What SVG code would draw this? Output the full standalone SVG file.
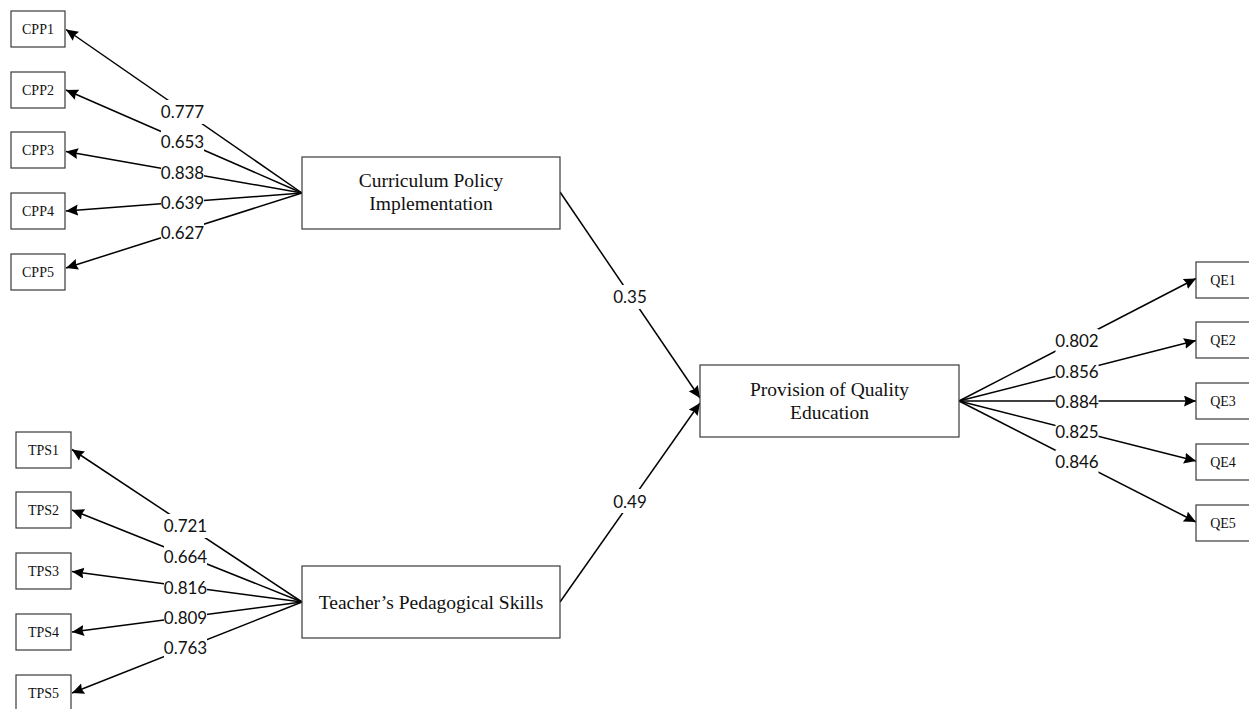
<svg xmlns="http://www.w3.org/2000/svg" width="1249" height="709" viewBox="0 0 1249 709">
<style>
.box{fill:#fff;stroke:#3a3a3a;stroke-width:1.2}
.small{font-family:"Liberation Serif",serif;font-size:14px;fill:#111;text-anchor:middle}
.big{font-family:"Liberation Serif",serif;font-size:19.5px;fill:#111;text-anchor:middle}
.conn{stroke:#000;stroke-width:1.5;fill:none;marker-end:url(#arr)}
.lblbg{fill:#fff}
.lbl{font-family:Lato,"Open Sans",sans-serif;font-size:17px;fill:#111;text-anchor:middle}
</style>
<defs>
<marker id="arr" markerUnits="userSpaceOnUse" markerWidth="14" markerHeight="12" refX="12" refY="5.5" orient="auto">
<path d="M0,0 L12,5.5 L0,11 L1.5,5.5 z" fill="#000"/>
</marker>
</defs>
<rect width="1249" height="709" fill="#fff"/>
<g id="connectors">
<line class="conn" x1="302" y1="193" x2="66" y2="29.5"/>
<line class="conn" x1="302" y1="193" x2="66" y2="90"/>
<line class="conn" x1="302" y1="193" x2="66" y2="151.5"/>
<line class="conn" x1="302" y1="193" x2="66" y2="211"/>
<line class="conn" x1="302" y1="193" x2="66" y2="268"/>
<line class="conn" x1="302" y1="602" x2="72" y2="449.5"/>
<line class="conn" x1="302" y1="602" x2="72" y2="510"/>
<line class="conn" x1="302" y1="602" x2="72" y2="571.5"/>
<line class="conn" x1="302" y1="602" x2="72" y2="632"/>
<line class="conn" x1="302" y1="602" x2="72" y2="693"/>
<line class="conn" x1="560" y1="192" x2="700" y2="398"/>
<line class="conn" x1="560" y1="602" x2="700" y2="403"/>
<line class="conn" x1="959" y1="401" x2="1196" y2="278.5"/>
<line class="conn" x1="959" y1="401" x2="1196" y2="340.5"/>
<line class="conn" x1="959" y1="401" x2="1196" y2="401"/>
<line class="conn" x1="959" y1="401" x2="1196" y2="461"/>
<line class="conn" x1="959" y1="401" x2="1196" y2="522"/>
<g id="labels">
<rect class="lblbg" x="161" y="100" width="43" height="24"/>
<text class="lbl" x="182.5" y="118">0.777</text>
<rect class="lblbg" x="161" y="130" width="43" height="23"/>
<text class="lbl" x="182.5" y="148">0.653</text>
<rect class="lblbg" x="161" y="161" width="43" height="23"/>
<text class="lbl" x="182.5" y="178.5">0.838</text>
<rect class="lblbg" x="161" y="191" width="43" height="23"/>
<text class="lbl" x="182.5" y="208.5">0.639</text>
<rect class="lblbg" x="161" y="221" width="43" height="23"/>
<text class="lbl" x="182.5" y="238.5">0.627</text>
<rect class="lblbg" x="164" y="514" width="43" height="24"/>
<text class="lbl" x="185.5" y="532">0.721</text>
<rect class="lblbg" x="164" y="545" width="43" height="23"/>
<text class="lbl" x="185.5" y="563">0.664</text>
<rect class="lblbg" x="164" y="576" width="43" height="23"/>
<text class="lbl" x="185.5" y="593.5">0.816</text>
<rect class="lblbg" x="164" y="606" width="43" height="23"/>
<text class="lbl" x="185.5" y="623.5">0.809</text>
<rect class="lblbg" x="164" y="636" width="43" height="23"/>
<text class="lbl" x="185.5" y="653.5">0.763</text>
<rect class="lblbg" x="612" y="285" width="36" height="24"/>
<text class="lbl" x="630" y="303">0.35</text>
<rect class="lblbg" x="612" y="489" width="36" height="24"/>
<text class="lbl" x="630" y="507.5">0.49</text>
<rect class="lblbg" x="1055.5" y="329" width="43" height="24"/>
<text class="lbl" x="1077" y="347">0.802</text>
<rect class="lblbg" x="1055.5" y="360" width="43" height="23"/>
<text class="lbl" x="1077" y="378">0.856</text>
<rect class="lblbg" x="1055.5" y="390" width="43" height="23"/>
<text class="lbl" x="1077" y="408">0.884</text>
<rect class="lblbg" x="1055.5" y="420" width="43" height="23"/>
<text class="lbl" x="1077" y="438">0.825</text>
<rect class="lblbg" x="1055.5" y="450" width="43" height="24"/>
<text class="lbl" x="1077" y="468">0.846</text>
</g>
</g>
<g id="CPP1"><rect class="box" x="11" y="11" width="54" height="36"/><text class="small" x="38" y="34">CPP1</text></g>
<g id="CPP2"><rect class="box" x="11" y="72" width="54" height="36"/><text class="small" x="38" y="95">CPP2</text></g>
<g id="CPP3"><rect class="box" x="11" y="132" width="54" height="36"/><text class="small" x="38" y="155">CPP3</text></g>
<g id="CPP4"><rect class="box" x="11" y="193" width="54" height="36"/><text class="small" x="38" y="216">CPP4</text></g>
<g id="CPP5"><rect class="box" x="11" y="254" width="54" height="36"/><text class="small" x="38" y="277">CPP5</text></g>
<g id="TPS1"><rect class="box" x="16" y="432" width="55" height="36"/><text class="small" x="43.5" y="455">TPS1</text></g>
<g id="TPS2"><rect class="box" x="16" y="492" width="55" height="36"/><text class="small" x="43.5" y="515">TPS2</text></g>
<g id="TPS3"><rect class="box" x="16" y="553" width="55" height="36"/><text class="small" x="43.5" y="576">TPS3</text></g>
<g id="TPS4"><rect class="box" x="16" y="614" width="55" height="36"/><text class="small" x="43.5" y="637">TPS4</text></g>
<g id="TPS5"><rect class="box" x="16" y="675" width="55" height="36"/><text class="small" x="43.5" y="698">TPS5</text></g>
<g id="QE1"><rect class="box" x="1196" y="262" width="56" height="36"/><text class="small" x="1223" y="285">QE1</text></g>
<g id="QE2"><rect class="box" x="1196" y="322" width="56" height="36"/><text class="small" x="1223" y="345">QE2</text></g>
<g id="QE3"><rect class="box" x="1196" y="383" width="56" height="36"/><text class="small" x="1223" y="406">QE3</text></g>
<g id="QE4"><rect class="box" x="1196" y="444" width="56" height="36"/><text class="small" x="1223" y="467">QE4</text></g>
<g id="QE5"><rect class="box" x="1196" y="505" width="56" height="36"/><text class="small" x="1223" y="528">QE5</text></g>
<g id="CPI"><rect class="box" x="302" y="157" width="258" height="72"/><text class="big" x="431" y="187">Curriculum Policy</text><text class="big" x="431" y="210">Implementation</text></g>
<g id="TPS"><rect class="box" x="302" y="566" width="258" height="72"/><text class="big" x="431" y="609">Teacher’s Pedagogical Skills</text></g>
<g id="PQE"><rect class="box" x="700" y="365" width="259" height="72"/><text class="big" x="829.5" y="396">Provision of Quality</text><text class="big" x="829.5" y="419">Education</text></g>
</svg>
